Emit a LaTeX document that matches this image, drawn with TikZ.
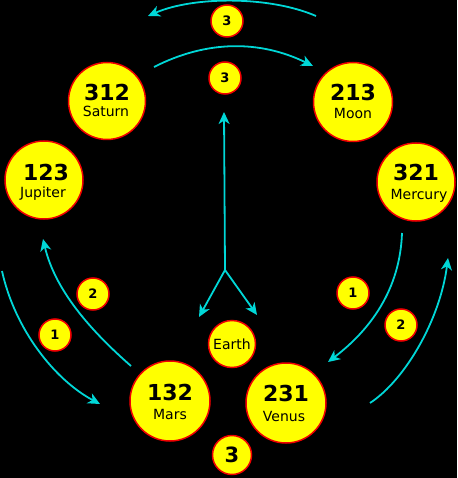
\documentclass[tikz,border=0pt]{standalone}
\usepackage{fontspec}
\setmainfont{DejaVu Sans}
\usetikzlibrary{arrows.meta}
\definecolor{arr}{RGB}{0,215,215}
\definecolor{ylw}{RGB}{255,255,0}
\definecolor{rd}{RGB}{240,0,0}
\tikzset{
  planet/.style={circle, draw=rd, fill=ylw, line width=1.5pt, inner sep=0pt, minimum size=#1},
  numtxt/.style={anchor=base, inner sep=0pt, font=\fontsize{22}{22}\selectfont\bfseries},
  nametxt/.style={anchor=base, inner sep=0pt, font=\fontsize{14}{14}\selectfont},
  smalltxt/.style={font=\fontsize{13}{13}\selectfont\bfseries},
  conn/.style={draw=arr, line width=1.8pt, -{Stealth[length=12pt,width=11pt,inset=3.5pt]}},
}
\begin{document}
\begin{tikzpicture}[x=1pt,y=-1pt]
\fill[black] (0,0) rectangle (457,478);
\useasboundingbox (0,0) rectangle (457,478);
% big planets
\node[planet=77pt] (sat) at (107,101) {};
\node[planet=79pt] (moon) at (353,102) {};
\node[planet=78pt] (jup) at (44,180) {};
\node[planet=78pt] (mer) at (416,182) {};
\node[planet=80pt] (mars) at (170,401) {};
\node[planet=80pt] (ven) at (286,403) {};
\node[planet=47pt, font=\fontsize{14}{14}\selectfont] (earth) at (232,344) {Earth};
% labels
\node[numtxt] (satn) at (107,101) {312};
\node[nametxt] (satl) at (106,117) {Saturn};
\node[numtxt] (moonn) at (353,101) {213};
\node[nametxt] (moonl) at (353,119) {Moon};
\node[numtxt] (jupn) at (46,180) {123};
\node[nametxt] (jupl) at (43,197) {Jupiter};
\node[numtxt] (mern) at (416,181) {321};
\node[nametxt] (merl) at (419,199) {Mercury};
\node[numtxt] (marsn) at (170,400) {132};
\node[nametxt] (marsl) at (170,419) {Mars};
\node[numtxt] (venn) at (286,401) {231};
\node[nametxt] (venl) at (284,421) {Venus};
% small markers
\node[planet=32pt, smalltxt] (t3a) at (227,21) {3};
\node[planet=32pt, smalltxt] (t3b) at (225,78) {3};
\node[planet=32pt, smalltxt] (l2) at (93,294) {2};
\node[planet=32pt, smalltxt] (l1) at (55,335) {1};
\node[planet=32pt, smalltxt] (r1) at (353,293) {1};
\node[planet=32pt, smalltxt] (r2) at (401,325) {2};
\node[planet=39pt, font=\fontsize{21}{21}\selectfont\bfseries] (b3) at (232,455) {3};
% connector end points
\coordinate (a1s) at (316,16);  \coordinate (a1e) at (148,16);
\coordinate (a2s) at (154,67);  \coordinate (a2e) at (313,66);
\coordinate (lo-s) at (2,271);  \coordinate (lo-e) at (100,404);
\coordinate (li-s) at (131,366); \coordinate (li-e) at (43,239);
\coordinate (ri-s) at (402,233); \coordinate (ri-e) at (328,362);
\coordinate (ro-s) at (370,403); \coordinate (ro-e) at (448,258);
\coordinate (junc) at (225,270);
\coordinate (up) at (224,112);
\coordinate (dl) at (199,317);
\coordinate (dr) at (257,315);
% connectors
\draw[conn] (a1s) .. controls (270,-4) and (194,-4) .. (a1e);
\draw[conn] (a2s) .. controls (207,40) and (260,40) .. (a2e);
\draw[conn] (lo-s) .. controls (15,330) and (55,380) .. (lo-e);
\draw[conn] (li-s) .. controls (90,330) and (55,290) .. (li-e);
\draw[conn] (ri-s) .. controls (400,290) and (370,330) .. (ri-e);
\draw[conn] (ro-s) .. controls (405,380) and (440,320) .. (ro-e);
\draw[conn] (junc) -- (up);
\draw[conn] (junc) -- (dl);
\draw[conn] (junc) -- (dr);
\end{tikzpicture}
\end{document}
